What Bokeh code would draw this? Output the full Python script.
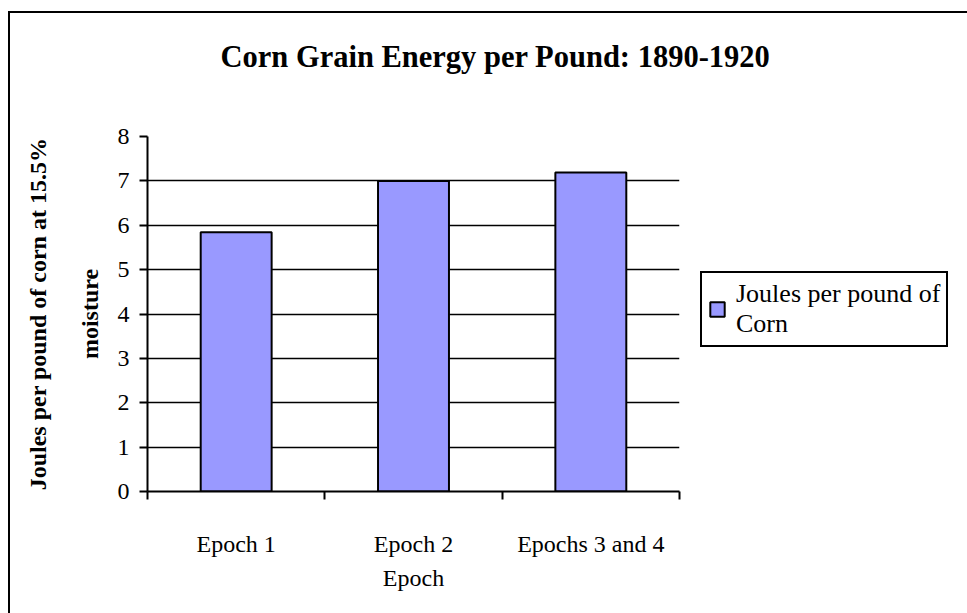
from bokeh.plotting import figure
from bokeh.models import FixedTicker, Grid, Legend, LegendItem, ColumnDataSource, Range1d, Title
from bokeh.embed import file_html
from bokeh.resources import INLINE

categories = ["Epoch 1", "Epoch 2", "Epochs 3 and 4"]
joules = [5.84, 7.0, 7.19]
y_ticks = [0, 1, 2, 3, 4, 5, 6, 7, 8]
series_name = "Joules per pound of\nCorn"
chart_title = "Corn Grain Energy per Pound: 1890-1920"

FONT = "Liberation Serif"
pos = [i + 0.5 for i in range(len(categories))]
bounds = list(range(len(categories) + 1))

src = ColumnDataSource(dict(x=pos, top=joules, cat=categories))

p = figure(width=957, height=600, output_backend="svg", toolbar_location=None,
           x_range=Range1d(0, len(categories)), y_range=Range1d(0, 8),
           min_border_left=137, min_border_right=288, min_border_top=123,
           min_border_bottom=122, tools="", title=None)
p.frame_width = 532
p.frame_height = 355
p.styles = {"border-left": "2px solid black", "border-top": "2px solid black",
            "margin-top": "11px", "margin-left": "8px"}
p.outline_line_color = None
p.background_fill_color = "white"
p.border_fill_color = "white"

r = p.vbar(x="x", top="top", width=0.4, source=src, fill_color="#9999FF",
           line_color="black", line_width=2)

# title with a spacer between it and the plot frame
spacer = Title(text=" ", text_font_size="2px", standoff=59)
main_title = Title(text=chart_title, text_font=FONT, text_font_size="30.5px",
                   text_font_style="bold", text_color="black", align="left",
                   offset=73, standoff=0, vertical_align="bottom")
p.add_layout(spacer, "above")
p.add_layout(main_title, "above")

# x axis
xa = p.xaxis[0]
xa.ticker = FixedTicker(ticks=pos, minor_ticks=bounds)
xa.major_label_overrides = {v: c for v, c in zip(pos, categories)}
xa.major_tick_line_color = None
xa.minor_tick_in = 0
xa.minor_tick_out = 8
xa.minor_tick_line_color = "black"
xa.minor_tick_line_width = 2
xa.axis_line_color = "black"
xa.axis_line_width = 2
xa.major_label_text_font = FONT
xa.major_label_text_font_size = "24px"
xa.major_label_text_color = "black"
xa.major_label_standoff = 31
xa.axis_label = "Epoch"
xa.axis_label_text_font = FONT
xa.axis_label_text_font_size = "24px"
xa.axis_label_text_font_style = "normal"
xa.axis_label_text_color = "black"
xa.axis_label_standoff = 5

# y axis
ya = p.yaxis[0]
ya.ticker = FixedTicker(ticks=y_ticks, minor_ticks=[])
ya.major_tick_in = 0
ya.major_tick_out = 8
ya.major_tick_line_width = 2
ya.major_tick_line_color = "black"
ya.axis_line_color = "black"
ya.axis_line_width = 2
ya.major_label_text_font = FONT
ya.major_label_text_font_size = "24px"
ya.major_label_text_color = "black"
ya.major_label_standoff = 10
ya.axis_label = "Joules per pound of corn at 15.5%\nmoisture"
ya.axis_label_text_font = FONT
ya.axis_label_text_font_size = "24px"
ya.axis_label_text_font_style = "bold"
ya.axis_label_text_color = "black"
ya.axis_label_text_line_height = 2.0
ya.axis_label_standoff = 12

# grids
p.xgrid.visible = False
p.ygrid[0].ticker = FixedTicker(ticks=y_ticks[1:-1])
p.ygrid[0].grid_line_color = "black"
p.ygrid[0].grid_line_width = 1.5
top_grid = Grid(dimension=1, ticker=FixedTicker(ticks=y_ticks[-1:]),
                grid_line_color="#c0c0c0", grid_line_width=2)
p.add_layout(top_grid)

# legend
legend = Legend(items=[LegendItem(label=series_name, renderers=[r])],
                location=(21, 144), orientation="vertical",
                label_text_font=FONT, label_text_font_size="26px",
                label_text_line_height=1.45,
                label_text_color="black", border_line_color="black",
                border_line_alpha=1.0,
                border_line_width=2, background_fill_color="white",
                background_fill_alpha=1, glyph_width=18, glyph_height=18,
                padding=6, margin=0, spacing=0, label_standoff=10)
p.add_layout(legend, "right")

open("out.html", "w").write(file_html(p, INLINE))
